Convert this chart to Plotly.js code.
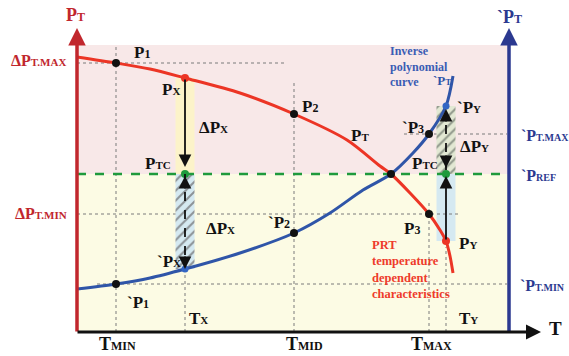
<!DOCTYPE html>
<html><head><meta charset="utf-8">
<script src="https://cdn.plot.ly/plotly-3.0.1.min.js"></script>
<style>html,body{margin:0;padding:0;background:#fff}</style>
</head><body><div id="chart" style="width:569px;height:356px"></div>
<script>
// ---- data (arbitrary units) ----
const T_MIN = 39, T_X = 108, T_MID = 217, T_CROSS = 314, T_MAX = 352, T_Y = 369, T_RIGHT = 432;
const P_TMAX = 269, P_TMIN = 118, P_REF = 158, Pb_TMAX = 198, Pb_TMIN = 48, P_TOP = 287;

const redT  = [0, 39, 73, 108, 163, 217, 270, 303, 314, 333, 352, 363, 369, 373, 376];
const redP  = [275, 269, 263, 254, 239, 218, 192, 166, 158, 139, 118, 102, 91, 76, 59];
const blueT = [0, 39, 73, 108, 163, 217, 253, 286, 314, 336, 352, 369, 376];
const blueP = [43, 48, 54, 63, 79, 99, 119, 142, 158, 179, 198, 226, 256];

const blackDotT = [T_MIN, T_MID, T_CROSS, T_MAX, T_MAX, T_MID, T_MIN];
const blackDotP = [P_TMAX, 218, P_REF, P_TMIN, Pb_TMAX, 99, Pb_TMIN];
const redDotT = [T_X, T_Y];
const redDotP = [254, 91];
const blueDotT = [T_X, T_Y];
const blueDotP = [63, 226];
const greenDotT = [T_X, T_Y];
const greenDotP = [P_REF, P_REF];

const xTickLabels = ['MIN', 'MID', 'MAX'];
const xTickVals = [40, 227, 354];

// ---- styles ----
const SERIF = 'Liberation Serif, DejaVu Serif, serif';
const RED_AX = '#c1272d', BLUE_AX = '#2b3990', RED_C = '#ec3525', BLUE_C = '#2f55a8', GREEN = '#1f9a3c';
const HALF = 9.5;

const sub = (s, sz) => `<span style="font-size:${sz}px">${s}</span>`;
function lab(text, x, y, color, size, anchor) {
  return {text: '<b>' + text + '</b>', x, y, xref:'x', yref:'y', showarrow:false, xanchor: anchor || 'center', yanchor:'middle',
          font:{family:SERIF, size, color}};
}
function arr(x, y, ax, ay, color, width, size) {
  return {text:'', x, y, ax, ay, xref:'x', yref:'y', axref:'x', ayref:'y', showarrow:true,
          arrowhead:2, arrowsize:size, arrowwidth:width, arrowcolor:color, standoff:0, startstandoff:0};
}
function rect(x0, x1, y0, y1, color) {
  return {type:'rect', xref:'x', yref:'y', x0, x1, y0, y1, fillcolor:color, line:{width:0}, layer:'below'};
}
function dotted(x0, y0, x1, y1) {
  return {type:'line', xref:'x', yref:'y', x0, y0, x1, y1, line:{color:'#7a7a7a', width:1, dash:'dot'}, layer:'below'};
}
function hatch(x0, x1, y0, y1, bg, fg) {
  return {x:[x0, x1, x1, x0, x0], y:[y0, y0, y1, y1, y0], mode:'lines', line:{width:0}, fill:'toself',
          fillcolor:bg, fillpattern:{shape:'/', bgcolor:bg, fgcolor:fg, size:7, solidity:0.28},
          hoverinfo:'skip', showlegend:false};
}

const traces = [
  hatch(T_X - HALF, T_X + HALF, 63, P_REF, '#d5e9f1', '#8c9296'),
  hatch(T_Y - HALF, T_Y + HALF, P_REF, 226, '#e2e8d3', '#8f978a'),
  {x:[0, T_RIGHT], y:[P_REF, P_REF], mode:'lines', line:{color:GREEN, width:2.6, dash:'dash'}, hoverinfo:'skip', showlegend:false},
  {x:redT, y:redP, mode:'lines', line:{color:RED_C, width:3, shape:'spline', smoothing:0.8}, hoverinfo:'skip', showlegend:false},
  {x:blueT, y:blueP, mode:'lines', line:{color:BLUE_C, width:3, shape:'spline', smoothing:0.8}, hoverinfo:'skip', showlegend:false},
  {x:blackDotT, y:blackDotP, mode:'markers', marker:{color:'#111', size:8}, hoverinfo:'skip', showlegend:false},
  {x:redDotT, y:redDotP, mode:'markers', marker:{color:RED_C, size:8}, hoverinfo:'skip', showlegend:false},
  {x:blueDotT, y:blueDotP, mode:'markers', marker:{color:'#3366c4', size:7}, hoverinfo:'skip', showlegend:false},
  {x:greenDotT, y:greenDotP, mode:'markers', marker:{color:GREEN, size:8}, hoverinfo:'skip', showlegend:false}
];

const shapes = [
  rect(0, T_RIGHT, P_REF, P_TOP, '#f8e8e8'),
  rect(0, T_RIGHT, 0, P_REF, '#fcfbe4'),
  rect(T_X - HALF, T_X + HALF, P_REF, 254, '#fcf3c9'),
  rect(T_Y - HALF, T_Y + HALF, 91, P_REF, '#d5e9f1'),
  dotted(0, P_TMAX, 207, P_TMAX),
  dotted(T_MIN, 0, T_MIN, 285),
  dotted(T_MID, 0, T_MID, 249),
  dotted(0, P_TMIN, 383, P_TMIN),
  dotted(20, Pb_TMIN, 430, Pb_TMIN),
  dotted(327, Pb_TMAX, 430, Pb_TMAX),
  dotted(T_MAX, 0, T_MAX, 132),
  dotted(T_Y, 0, T_Y, 85),
  dotted(T_X, 0, T_X, 63),
  {type:'line', xref:'x', yref:'y', x0:T_X, y0:P_REF, x1:T_X, y1:70, line:{color:'#111', width:1.8, dash:'dash'}},
  {type:'line', xref:'x', yref:'y', x0:T_Y, y0:P_REF + 4, x1:T_Y, y1:218, line:{color:'#111', width:1.8, dash:'dash'}}
];

const annotations = [
  // axes
  arr(0, 304, 0, -1, RED_AX, 3.5, 1),
  arr(T_RIGHT, 304, T_RIGHT, -1, BLUE_AX, 3.5, 1),
  arr(464, 0, -1, 0, '#111', 3, 1),
  // measurement arrows
  arr(T_X, 165, T_X, 254, '#111', 1.8, 1.4),
  arr(T_X, 156, T_X, 142, '#111', 1.8, 1.4),
  arr(T_X, 63, T_X, 77, '#111', 1.8, 1.4),
  arr(T_Y, 156, T_Y, 91, '#111', 1.8, 1.4),
  arr(T_Y, 164, T_Y, 178, '#111', 1.8, 1.4),
  arr(T_Y, 223, T_Y, 209, '#111', 1.8, 1.4),
  // axis labels
  lab('P' + sub('T', 12), -2, 317, RED_AX, 18),
  lab('ΔP' + sub('T.MAX', 11), -9, 272, RED_AX, 16, 'right'),
  lab('ΔP' + sub('T.MIN', 11), -8, 119, RED_AX, 16, 'right'),
  lab('`P' + sub('T', 12), 432, 315, BLUE_AX, 18),
  lab('`P' + sub('T.MAX', 10), 442, 197, BLUE_AX, 16, 'left'),
  lab('`P' + sub('REF', 10), 442, 157, BLUE_AX, 16, 'left'),
  lab('`P' + sub('T.MIN', 10), 441, 47, BLUE_AX, 16, 'left'),
  lab('T', 478, 4, '#111', 19),
  lab('T' + sub(xTickLabels[0], 12), xTickVals[0], -12, '#111', 18),
  lab('T' + sub(xTickLabels[1], 12), xTickVals[1], -12, '#111', 18),
  lab('T' + sub(xTickLabels[2], 12), xTickVals[2], -12, '#111', 18),
  // point labels
  lab('P' + sub('1', 12), 65, 280, '#111', 17),
  lab('P' + sub('X', 11), 94, 243, '#111', 17),
  lab('ΔP' + sub('X', 11), 136, 205, '#111', 17),
  lab('P' + sub('TC', 11), 81, 169, '#111', 17),
  lab('ΔP' + sub('X', 11), 143, 104, '#111', 17),
  lab('`P' + sub('X', 11), 92, 71, '#111', 17),
  lab('`P' + sub('1', 12), 61, 30, '#111', 17),
  lab('T' + sub('X', 11), 121, 14, '#111', 17),
  lab('`P' + sub('2', 12), 202, 110, '#111', 17),
  lab('P' + sub('2', 12), 233, 226, '#111', 17),
  lab('P' + sub('T', 11), 283, 197, '#111', 17),
  lab('`P' + sub('3', 12), 336, 205, '#111', 17),
  lab('P' + sub('TC', 11), 348, 169, '#111', 17),
  lab('ΔP' + sub('Y', 11), 397, 186, '#111', 17),
  lab('`P' + sub('Y', 11), 392, 225, '#111', 17),
  lab('`P' + sub('T', 9), 365, 252, BLUE_C, 13),
  lab('P' + sub('3', 12), 335, 104, '#111', 17),
  lab('P' + sub('Y', 11), 391, 89, '#111', 17),
  lab('T' + sub('Y', 11), 391, 14, '#111', 17),
  {text:'<b>Inverse<br>polynomial<br>curve</b>', x:311, y:266, xref:'x', yref:'y', showarrow:false, xanchor:'left', yanchor:'middle', align:'left',
   font:{family:SERIF, size:12, color:'#3a5cb4'}},
  {text:'<b>PRT<br>temperature<br>dependent<br>characteristics</b>', x:293, y:63, xref:'x', yref:'y', showarrow:false, xanchor:'left', yanchor:'middle', align:'left',
   font:{family:SERIF, size:12.5, color:'#ee3b2b'}}
];

const layout = {
  width:569, height:356, margin:{l:0, r:0, t:0, b:0},
  paper_bgcolor:'#ffffff', plot_bgcolor:'#ffffff', showlegend:false,
  xaxis:{range:[-77, 492], visible:false, fixedrange:true},
  yaxis:{range:[-24, 332], visible:false, fixedrange:true},
  shapes, annotations
};
Plotly.newPlot('chart', traces, layout, {staticPlot:true, displayModeBar:false});
</script></body></html>
